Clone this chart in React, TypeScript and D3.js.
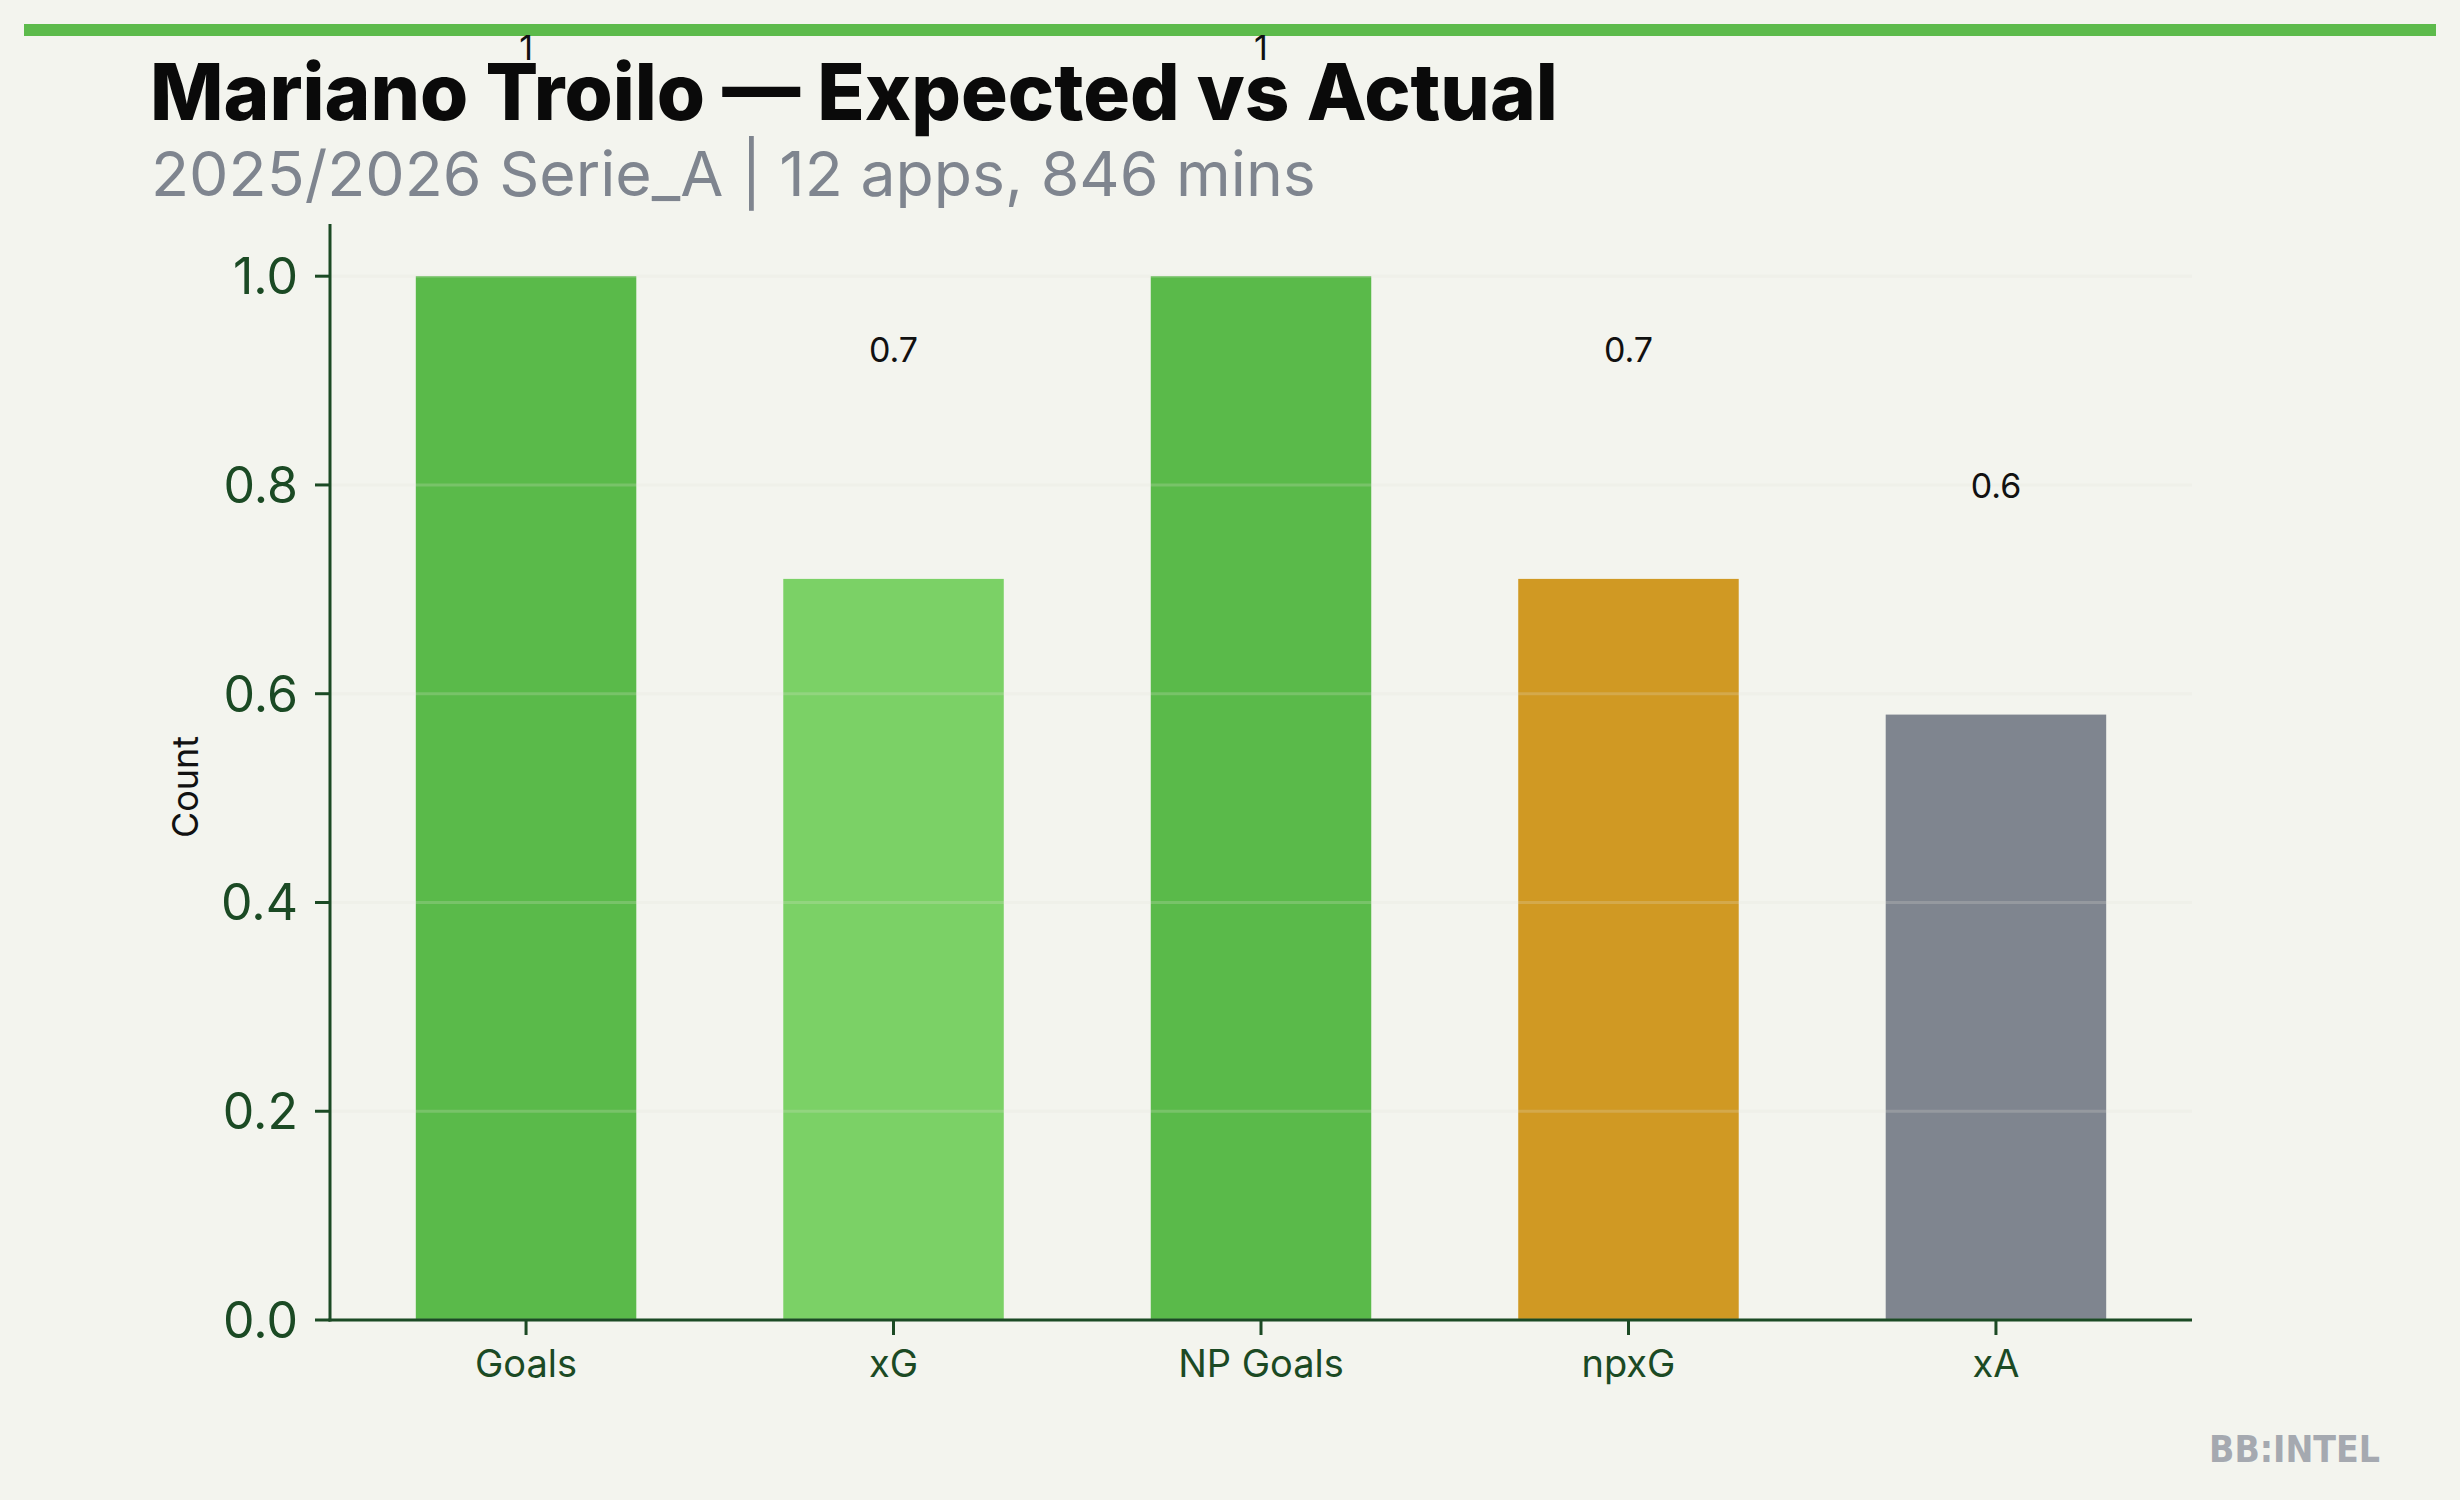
import React, { useEffect } from "react";
import * as d3 from "d3";

const categories = ["Goals", "xG", "NP Goals", "npxG", "xA"];
const values = [1, 0.71, 1, 0.71, 0.58];
const barColors = ["#5aba4a", "#7bd166", "#5aba4a", "#d09923", "#7f858f"];
const yTicks = [0, 0.2, 0.4, 0.6, 0.8, 1.0];
const titleText = "Mariano Troilo — Expected vs Actual";
const subtitleText = "2025/2026 Serie_A | 12 apps, 846 mins";
const yLabel = "Count";
const watermark = "BB:INTEL";

const W = 2460;
const H = 1500;
const plot = { left: 330, right: 2192, top: 224, bottom: 1320 };
const AXIS = "#1b4a24";
const LABEL_OFFSET = 0.2075;

export default function App() {
  useEffect(() => {
    document.body.style.margin = "0";
    document.body.style.background = "#f3f4ee";
  }, []);

  const x = d3
    .scaleBand<string>()
    .domain(categories)
    .range([plot.left, plot.right])
    .paddingInner(0.4)
    .paddingOuter(0.2335);
  const y = d3.scaleLinear().domain([0, 1.05]).range([plot.bottom, plot.top]);
  const fmt = (v: number) => (Number.isInteger(v) ? String(v) : d3.format(".1f")(v));

  return (
    <svg width={W} height={H} style={{ display: "block", position: "absolute", left: 0, top: 0 }}>
      <rect x={0} y={0} width={W} height={H} fill="#f3f4ee" />
      <rect x={24} y={24} width={2412} height={12} fill="#5cba4b" />

      {/* bars */}
      {categories.map((c, i) => (
        <rect
          key={c}
          x={x(c)}
          y={y(values[i])}
          width={x.bandwidth()}
          height={y(0) - y(values[i])}
          fill={barColors[i]}
        />
      ))}

      {/* gridlines */}
      {yTicks.map((t) => (
        <line
          key={"g" + t}
          x1={plot.left}
          x2={plot.right}
          y1={y(t)}
          y2={y(t)}
          stroke="#e2e2dc"
          strokeOpacity={0.22}
          strokeWidth={3}
        />
      ))}

      {/* y axis */}
      <line x1={plot.left} x2={plot.left} y1={plot.top} y2={plot.bottom + 1.5} stroke={AXIS} strokeWidth={3} />
      {yTicks.map((t) => (
        <g key={"yt" + t}>
          <line x1={plot.left - 15} x2={plot.left} y1={y(t)} y2={y(t)} stroke={AXIS} strokeWidth={3} />
          <text
            x={plot.left - 32}
            y={y(t)}
            dy="0.36em"
            textAnchor="end"
            fontFamily="Inter"
            fontSize={50}
            fill={AXIS}
          >
            {d3.format(".1f")(t)}
          </text>
        </g>
      ))}

      {/* x axis */}
      <line x1={plot.left - 1.5} x2={plot.right} y1={plot.bottom} y2={plot.bottom} stroke={AXIS} strokeWidth={3} />
      {categories.map((c) => {
        const cx = (x(c) as number) + x.bandwidth() / 2;
        return (
          <g key={"xt" + c}>
            <line x1={cx} x2={cx} y1={plot.bottom} y2={plot.bottom + 15} stroke={AXIS} strokeWidth={3} />
            <text x={cx} y={plot.bottom + 57} textAnchor="middle" fontFamily="Inter" fontSize={38} fill={AXIS}>
              {c}
            </text>
          </g>
        );
      })}

      {/* value labels */}
      {categories.map((c, i) => {
        const cx = (x(c) as number) + x.bandwidth() / 2;
        return (
          <text
            key={"v" + c}
            x={cx}
            y={y(values[i] + LABEL_OFFSET)}
            textAnchor="middle"
            fontFamily="Inter"
            fontSize={34}
            fill="#111"
          >
            {fmt(values[i])}
          </text>
        );
      })}

      {/* y label */}
      <text
        transform={`translate(198, ${(plot.top + plot.bottom) / 2 + 15}) rotate(-90)`}
        textAnchor="middle"
        fontFamily="Inter"
        fontSize={36}
        fill="#111"
      >
        {yLabel}
      </text>

      {/* title */}
      <text x={150} y={120} fontFamily="Inter" fontWeight={800} fontSize={78} fill="#0a0a0a">
        {titleText}
      </text>
      <text x={151} y={196} fontFamily="Inter" fontSize={62.5} fill="#7f858f">
        {subtitleText}
      </text>

      {/* watermark */}
      <text
        x={2380}
        y={1462}
        textAnchor="end"
        fontFamily="DejaVu Sans Condensed, DejaVu Sans"
        fontWeight="bold"
        fontSize={37}
        fill="#a5a9b0"
      >
        {watermark}
      </text>
    </svg>
  );
}
